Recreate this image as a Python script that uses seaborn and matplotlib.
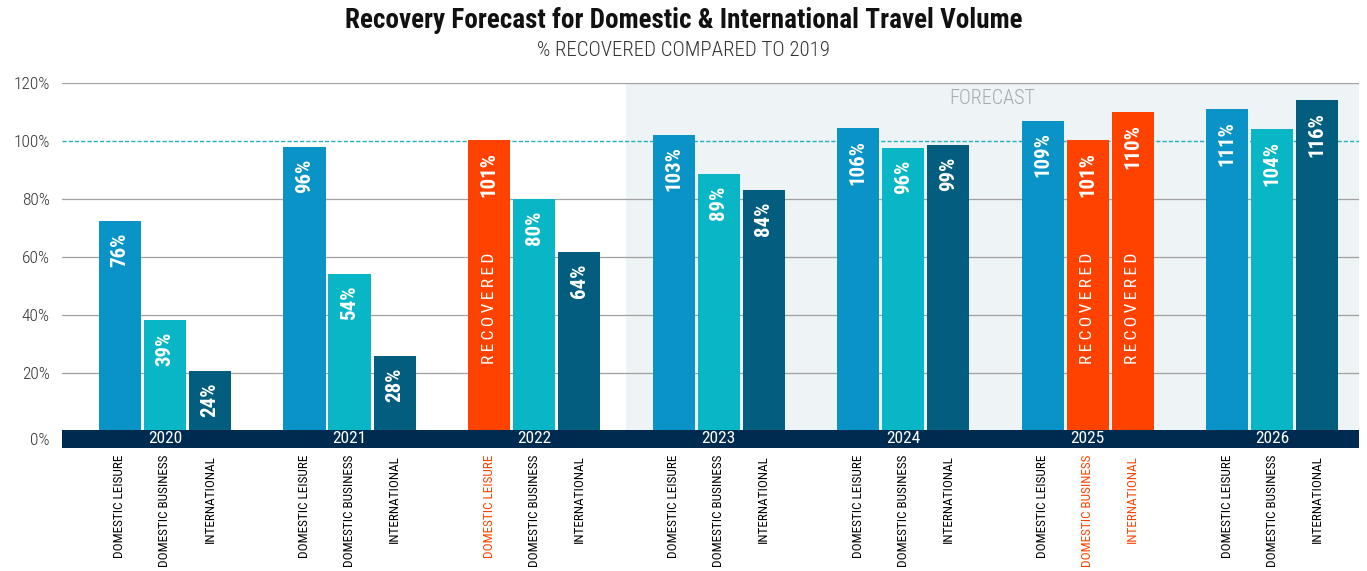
import matplotlib
matplotlib.use("Agg")
import matplotlib.pyplot as plt
from matplotlib import font_manager
import seaborn as sns
import pandas as pd

# ---------------- data ----------------
years = ["2020", "2021", "2022", "2023", "2024", "2025", "2026"]
series = ["DOMESTIC LEISURE", "DOMESTIC BUSINESS", "INTERNATIONAL"]

# bar heights as drawn in the reference (% of 2019)
leisure_height = [72.5, 97.8, 100.3, 102.2, 104.4, 107.0, 110.9]
business_height = [38.3, 54.2, 79.9, 88.6, 97.7, 100.3, 104.0]
international_height = [20.8, 26.0, 61.7, 83.2, 98.6, 110.0, 114.0]

# printed value labels
leisure_label = ["76%", "96%", "101%", "103%", "106%", "109%", "111%"]
business_label = ["39%", "54%", "80%", "89%", "96%", "101%", "104%"]
international_label = ["24%", "28%", "64%", "84%", "99%", "110%", "116%"]

# bars flagged as "RECOVERED"
leisure_recovered = [False, False, True, False, False, False, False]
business_recovered = [False, False, False, False, False, True, False]
international_recovered = [False, False, False, False, False, True, False]

y_ticks = [0, 20, 40, 60, 80, 100, 120]
y_tick_labels = ["0%", "20%", "40%", "60%", "80%", "100%", "120%"]
forecast_start_year = "2023"

title = "Recovery Forecast for Domestic & International Travel Volume"
subtitle = "% RECOVERED COMPARED TO 2019"

# ---------------- style ----------------
C_LEISURE = "#0a93c6"
C_BUSINESS = "#08b6c6"
C_INTL = "#035d7e"
C_RECOV = "#ff4200"
C_BAND = "#002b50"
C_FORECAST_BG = "#eef3f6"
C_GRID = "#a0a0a0"
C_DASH = "#1fb0c0"

sns.set_theme(style="white")
available = {f.name for f in font_manager.fontManager.ttflist}
narrow = None
for cand in ["Roboto Condensed", "Liberation Sans Narrow", "Open Sans Condensed",
             "DejaVu Sans Condensed", "Liberation Sans"]:
    if cand in available:
        narrow = cand
        break
FAM = [narrow, "DejaVu Sans"] if narrow else ["DejaVu Sans"]
plt.rcParams["font.family"] = FAM

heights = [leisure_height, business_height, international_height]
labels = [leisure_label, business_label, international_label]
recovered = [leisure_recovered, business_recovered, international_recovered]

df = pd.DataFrame({
    "year": years * 3,
    "series": [s for s in series for _ in years],
    "height": leisure_height + business_height + international_height,
})

fig = plt.figure(figsize=(13.67, 5.71), dpi=100)
ax = fig.add_axes([62 / 1367, (571 - 448) / 571, 1297 / 1367, 365 / 571])

sns.barplot(data=df, x="year", y="height", hue="series", order=years,
            hue_order=series, palette=[C_LEISURE, C_BUSINESS, C_INTL],
            width=0.732, gap=0.066, saturation=1, legend=False,
            errorbar=None, linewidth=0, zorder=3, ax=ax)

ymin, ymax = -5.7, 120
xmin, xmax = -0.558, 6.47
ax.set_xlim(xmin, xmax)
ax.set_ylim(ymin, ymax)

# forecast background
fc = years.index(forecast_start_year) - 0.5
ax.axvspan(fc, xmax, ymin=0, ymax=1, color=C_FORECAST_BG, zorder=0, lw=0)
ax.text((fc + xmax) / 2, 114.5, "FORECAST", ha="center", va="center",
        fontsize=14.5, color="#a3aab0", fontweight="light", zorder=4)

# grid lines
for t in y_ticks:
    if t == 0:
        continue
    if t == 100:
        ax.axhline(t, color=C_DASH, lw=1.0, ls=(0, (3, 1.5)), zorder=1)
    else:
        ax.axhline(t, color=C_GRID, lw=0.9, zorder=1)

# bottom band
ax.axhspan(ymin, 0.5, color=C_BAND, zorder=5, lw=0)
for i, yr in enumerate(years):
    ax.text(i, (ymin + 0.5) / 2, yr, ha="center", va="center",
            color="white", fontsize=12.5, zorder=6)

# recolor + annotate bars
tick_pos, tick_lab, tick_col = [], [], []
for si, cont in enumerate(ax.containers):
    for j, patch in enumerate(cont):
        cx = patch.get_x() + patch.get_width() / 2
        h = patch.get_height()
        rec = recovered[si][j]
        if rec:
            patch.set_facecolor(C_RECOV)
            ax.text(cx, 42.5, "\u2009".join("RECOVERED"), rotation=90,
                    ha="center", va="center", color="white", fontsize=12.5,
                    zorder=4)
        ax.text(cx, h - 4.0, labels[si][j], rotation=90, ha="center",
                va="top", color="white", fontsize=15, fontweight="bold",
                zorder=4)
        tick_pos.append(cx)
        tick_lab.append(series[si])
        tick_col.append(C_RECOV if rec else "black")

ax.set_xticks(tick_pos)
ax.set_xticklabels(tick_lab, rotation=90, fontsize=9.5, va="top", ha="center")
for lab, col in zip(ax.get_xticklabels(), tick_col):
    lab.set_color(col)

ytick_pos = [(ymin + 0.5) / 2 if t == 0 else t for t in y_ticks]
ax.set_yticks(ytick_pos)
ax.set_yticklabels(y_tick_labels, fontsize=12.5, color="#333333")
for lab in ax.get_yticklabels():
    lab.set_fontweight("light")
ax.tick_params(axis="both", length=0)
ax.tick_params(axis="x", pad=5)
ax.tick_params(axis="y", pad=9)
ax.set_xlabel("")
ax.set_ylabel("")
for s in ax.spines.values():
    s.set_visible(False)

fig.text(0.5, 1 - 20 / 571, title, ha="center", va="center",
         fontsize=19.5, fontweight="bold", color="#111111")
fig.text(0.5, 1 - 50 / 571, subtitle, ha="center", va="center",
         fontsize=15, fontweight="light", color="#333333")

fig.savefig("out.png", dpi=100, facecolor="white")
